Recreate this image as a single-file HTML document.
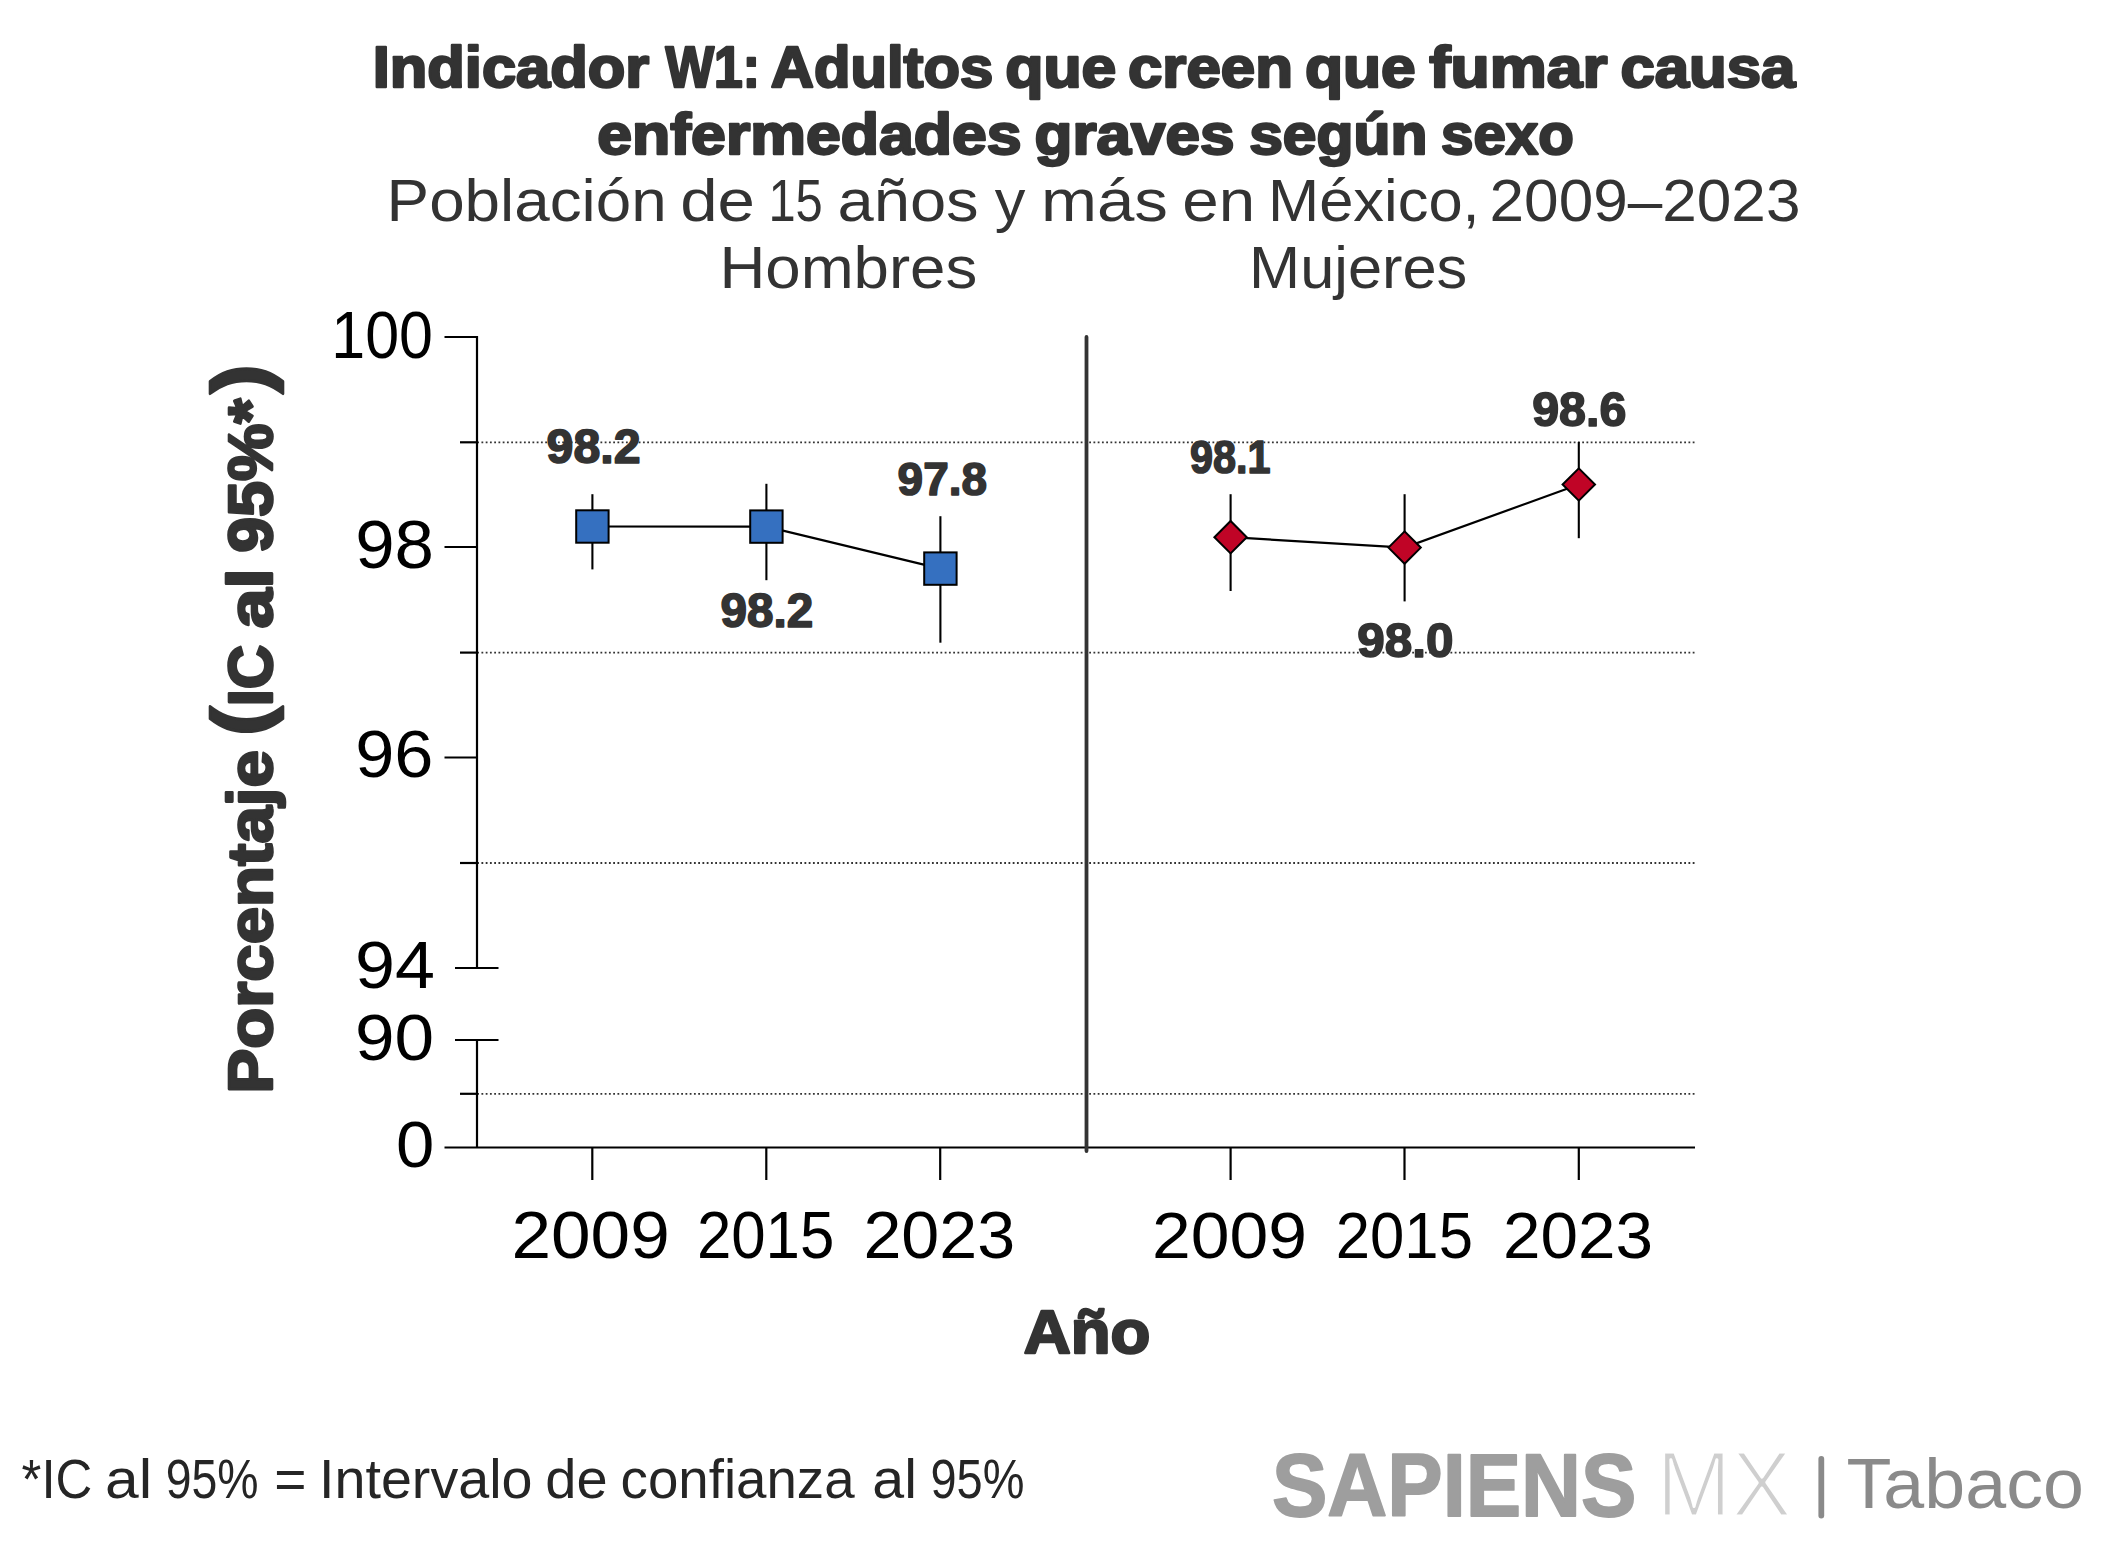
<!DOCTYPE html>
<html lang="es"><head><meta charset="utf-8"><title>Indicador W1: Adultos que creen que fumar causa enfermedades graves según sexo</title>
<style>
html,body{margin:0;padding:0;background:#fff;}
body{width:2105px;height:1542px;overflow:hidden;}
svg{display:block;}
text{font-family:"Liberation Sans",Arial,sans-serif;}
.grid{stroke:#333;stroke-width:1.8;stroke-dasharray:1.8 2.45;}
.ax{stroke:#000;stroke-width:2.2;}
.div{stroke:#333;stroke-width:3.8;stroke-linecap:round;}
.conn{fill:none;stroke:#000;stroke-width:2.2;}
.eb{stroke:#000;stroke-width:2.1;}
.sq{fill:#3570c0;stroke:#000;stroke-width:2.0;}
.dm{fill:#c00426;stroke:#000;stroke-width:2.0;stroke-linejoin:miter;}
</style></head>
<body>
<svg width="2105" height="1542" viewBox="0 0 2105 1542">
<rect width="2105" height="1542" fill="#fff"/>
<line x1="477.2" y1="442.3" x2="1694.5" y2="442.3" class="grid"/>
<line x1="477.2" y1="652.6" x2="1694.5" y2="652.6" class="grid"/>
<line x1="477.2" y1="863" x2="1694.5" y2="863" class="grid"/>
<line x1="477.2" y1="1093.8" x2="1694.5" y2="1093.8" class="grid"/>
<line x1="477" y1="336" x2="477" y2="969" class="ax"/>
<line x1="477" y1="1039" x2="477" y2="1148" class="ax"/>
<line x1="444.5" y1="337" x2="477" y2="337" class="ax"/>
<line x1="444.5" y1="547" x2="477" y2="547" class="ax"/>
<line x1="444.5" y1="757.5" x2="477" y2="757.5" class="ax"/>
<line x1="460" y1="442.3" x2="477" y2="442.3" class="ax"/>
<line x1="460" y1="652.6" x2="477" y2="652.6" class="ax"/>
<line x1="460" y1="863" x2="477" y2="863" class="ax"/>
<line x1="460" y1="1093.8" x2="477" y2="1093.8" class="ax"/>
<line x1="455" y1="968" x2="498.5" y2="968" class="ax"/>
<line x1="455" y1="1040" x2="498.5" y2="1040" class="ax"/>
<line x1="444.5" y1="1147.5" x2="1695" y2="1147.5" class="ax"/>
<line x1="592.3" y1="1147" x2="592.3" y2="1180" class="ax"/>
<line x1="766.3" y1="1147" x2="766.3" y2="1180" class="ax"/>
<line x1="940.2" y1="1147" x2="940.2" y2="1180" class="ax"/>
<line x1="1230.6" y1="1147" x2="1230.6" y2="1180" class="ax"/>
<line x1="1404.5" y1="1147" x2="1404.5" y2="1180" class="ax"/>
<line x1="1578.8" y1="1147" x2="1578.8" y2="1180" class="ax"/>
<line x1="1086.5" y1="337" x2="1086.5" y2="1151" class="div"/>
<polyline points="592.4,526.5 766.4,526.6 940.4,568.6" class="conn"/>
<polyline points="1230.6,537.2 1404.6,547.6 1578.8,484.5" class="conn"/>
<line x1="592.4" y1="494.2" x2="592.4" y2="569.4" class="eb"/>
<line x1="766.4" y1="483.8" x2="766.4" y2="580.2" class="eb"/>
<line x1="940.4" y1="516.2" x2="940.4" y2="642.7" class="eb"/>
<line x1="1230.6" y1="494.2" x2="1230.6" y2="591.0" class="eb"/>
<line x1="1404.6" y1="494.2" x2="1404.6" y2="601.4" class="eb"/>
<line x1="1578.8" y1="441.9" x2="1578.8" y2="538.2" class="eb"/>
<rect x="576.20" y="510.30" width="32.40" height="32.40" class="sq"/>
<rect x="750.20" y="510.40" width="32.40" height="32.40" class="sq"/>
<rect x="924.20" y="552.40" width="32.40" height="32.40" class="sq"/>
<polygon points="1214.40,537.20 1230.60,521.00 1246.80,537.20 1230.60,553.40" class="dm"/>
<polygon points="1388.40,547.60 1404.60,531.40 1420.80,547.60 1404.60,563.80" class="dm"/>
<polygon points="1562.60,484.50 1578.80,468.30 1595.00,484.50 1578.80,500.70" class="dm"/>
<line x1="1821.3" y1="1459" x2="1821.3" y2="1515.5" stroke="#8a8a8a" stroke-width="5.8" stroke-linecap="round"/>
<text id="t1" font-size="56.54" font-weight="bold" fill="#333333" stroke="#333333" stroke-width="2.4" stroke-linejoin="round"><tspan id="t1_0" x="372.78" y="86.80" textLength="276.42" lengthAdjust="spacingAndGlyphs">Indicador</tspan> <tspan id="t1_1" x="665.42" y="86.80" textLength="94.46" lengthAdjust="spacingAndGlyphs">W1:</tspan> <tspan id="t1_2" x="770.80" y="86.80" textLength="222.41" lengthAdjust="spacingAndGlyphs">Adultos</tspan> <tspan id="t1_3" x="1005.18" y="86.80" textLength="111.22" lengthAdjust="spacingAndGlyphs">que</tspan> <tspan id="t1_4" x="1127.98" y="86.80" textLength="165.06" lengthAdjust="spacingAndGlyphs">creen</tspan> <tspan id="t1_5" x="1304.98" y="86.80" textLength="110.83" lengthAdjust="spacingAndGlyphs">que</tspan> <tspan id="t1_6" x="1429.19" y="86.80" textLength="178.21" lengthAdjust="spacingAndGlyphs">fumar</tspan> <tspan id="t1_7" x="1620.40" y="86.80" textLength="175.01" lengthAdjust="spacingAndGlyphs">causa</tspan></text>
<text id="t2" font-size="56.54" font-weight="bold" fill="#333333" stroke="#333333" stroke-width="2.4" stroke-linejoin="round"><tspan id="t2_0" x="597.19" y="153.90" textLength="424.41" lengthAdjust="spacingAndGlyphs">enfermedades</tspan> <tspan id="t2_1" x="1034.59" y="153.90" textLength="200.01" lengthAdjust="spacingAndGlyphs">graves</tspan> <tspan id="t2_2" x="1249.20" y="153.90" textLength="178.24" lengthAdjust="spacingAndGlyphs">según</tspan> <tspan id="t2_3" x="1441.00" y="153.90" textLength="132.82" lengthAdjust="spacingAndGlyphs">sexo</tspan></text>
<text id="sub" font-size="59.01" fill="#333333"><tspan id="sub_0" x="386.62" y="221.00" textLength="280.10" lengthAdjust="spacingAndGlyphs">Población</tspan> <tspan id="sub_1" x="680.26" y="221.00" textLength="74.74" lengthAdjust="spacingAndGlyphs">de</tspan> <tspan id="sub_2" x="768.45" y="221.00" textLength="54.36" lengthAdjust="spacingAndGlyphs">15</tspan> <tspan id="sub_3" x="837.53" y="221.00" textLength="141.16" lengthAdjust="spacingAndGlyphs">años</tspan> <tspan id="sub_4" x="994.78" y="221.00" textLength="30.63" lengthAdjust="spacingAndGlyphs">y</tspan> <tspan id="sub_5" x="1040.99" y="221.00" textLength="126.90" lengthAdjust="spacingAndGlyphs">más</tspan> <tspan id="sub_6" x="1182.32" y="221.00" textLength="72.83" lengthAdjust="spacingAndGlyphs">en</tspan> <tspan id="sub_7" x="1267.95" y="221.00" textLength="211.74" lengthAdjust="spacingAndGlyphs">México,</tspan> <tspan id="sub_8" x="1489.55" y="221.00" textLength="310.90" lengthAdjust="spacingAndGlyphs">2009–2023</tspan></text>
<text id="hom" x="719.46" y="287.60" font-size="58.87" fill="#333333" textLength="257.79" lengthAdjust="spacingAndGlyphs">Hombres</text>
<text id="muj" x="1249.07" y="287.70" font-size="58.72" fill="#333333" textLength="218.21" lengthAdjust="spacingAndGlyphs">Mujeres</text>
<text id="y100" x="331.31" y="357.85" font-size="66.67" fill="#000000" textLength="101.63" lengthAdjust="spacingAndGlyphs">100</text>
<text id="y98" x="355.17" y="567.74" font-size="67.94" fill="#000000" textLength="78.80" lengthAdjust="spacingAndGlyphs">98</text>
<text id="y96" x="355.18" y="776.95" font-size="66.38" fill="#000000" textLength="78.24" lengthAdjust="spacingAndGlyphs">96</text>
<text id="y94" x="354.99" y="988.15" font-size="66.24" fill="#000000" textLength="79.95" lengthAdjust="spacingAndGlyphs">94</text>
<text id="y90" x="354.98" y="1059.67" font-size="64.83" fill="#000000" textLength="79.15" lengthAdjust="spacingAndGlyphs">90</text>
<text id="y0" x="395.96" y="1167.26" font-size="65.54" fill="#000000" textLength="38.32" lengthAdjust="spacingAndGlyphs">0</text>
<text id="xh1" x="511.47" y="1258.34" font-size="67.09" fill="#000000" textLength="158.25" lengthAdjust="spacingAndGlyphs">2009</text>
<text id="xh2" x="696.90" y="1258.34" font-size="67.09" fill="#000000" textLength="137.37" lengthAdjust="spacingAndGlyphs">2015</text>
<text id="xh3" x="863.45" y="1258.34" font-size="67.09" fill="#000000" textLength="151.68" lengthAdjust="spacingAndGlyphs">2023</text>
<text id="xm1" x="1152.08" y="1257.96" font-size="65.40" fill="#000000" textLength="155.01" lengthAdjust="spacingAndGlyphs">2009</text>
<text id="xm2" x="1335.87" y="1257.96" font-size="65.40" fill="#000000" textLength="137.03" lengthAdjust="spacingAndGlyphs">2015</text>
<text id="xm3" x="1503.08" y="1257.96" font-size="65.40" fill="#000000" textLength="150.05" lengthAdjust="spacingAndGlyphs">2023</text>
<text id="dh1" x="546.58" y="462.84" font-size="47.18" font-weight="bold" fill="#333333" stroke="#333333" stroke-width="1.6" stroke-linejoin="round" textLength="94.03" lengthAdjust="spacingAndGlyphs">98.2</text>
<text id="dh2" x="720.58" y="627.44" font-size="47.18" font-weight="bold" fill="#333333" stroke="#333333" stroke-width="1.6" stroke-linejoin="round" textLength="92.82" lengthAdjust="spacingAndGlyphs">98.2</text>
<text id="dh3" x="897.59" y="495.45" font-size="46.33" font-weight="bold" fill="#333333" stroke="#333333" stroke-width="1.6" stroke-linejoin="round" textLength="89.41" lengthAdjust="spacingAndGlyphs">97.8</text>
<text id="dm1" x="1190.00" y="473.44" font-size="46.89" font-weight="bold" fill="#333333" stroke="#333333" stroke-width="1.6" stroke-linejoin="round" textLength="80.61" lengthAdjust="spacingAndGlyphs">98.1</text>
<text id="dm2" x="1357.19" y="657.44" font-size="47.32" font-weight="bold" fill="#333333" stroke="#333333" stroke-width="1.6" stroke-linejoin="round" textLength="96.23" lengthAdjust="spacingAndGlyphs">98.0</text>
<text id="dm3" x="1532.19" y="426.03" font-size="48.02" font-weight="bold" fill="#333333" stroke="#333333" stroke-width="1.6" stroke-linejoin="round" textLength="94.22" lengthAdjust="spacingAndGlyphs">98.6</text>
<text id="ano" x="1023.79" y="1353.30" font-size="60.32" font-weight="bold" fill="#333333" stroke="#333333" stroke-width="2.4" stroke-linejoin="round" textLength="126.62" lengthAdjust="spacingAndGlyphs">Año</text>
<text id="foot" font-size="54.65" fill="#252525"><tspan id="foot_0" x="21.57" y="1498.40" textLength="70.74" lengthAdjust="spacingAndGlyphs">*IC</tspan> <tspan id="foot_1" x="105.03" y="1498.40" textLength="47.10" lengthAdjust="spacingAndGlyphs">al</tspan> <tspan id="foot_2" x="165.70" y="1498.40" textLength="92.78" lengthAdjust="spacingAndGlyphs">95%</tspan> <tspan id="foot_3" x="274.15" y="1498.40" textLength="32.20" lengthAdjust="spacingAndGlyphs">=</tspan> <tspan id="foot_4" x="319.05" y="1498.40" textLength="213.42" lengthAdjust="spacingAndGlyphs">Intervalo</tspan> <tspan id="foot_5" x="545.26" y="1498.40" textLength="62.30" lengthAdjust="spacingAndGlyphs">de</tspan> <tspan id="foot_6" x="620.59" y="1498.40" textLength="234.01" lengthAdjust="spacingAndGlyphs">confianza</tspan> <tspan id="foot_7" x="872.39" y="1498.40" textLength="44.59" lengthAdjust="spacingAndGlyphs">al</tspan> <tspan id="foot_8" x="930.53" y="1498.40" textLength="93.93" lengthAdjust="spacingAndGlyphs">95%</tspan></text>
<text id="sap" x="1271.98" y="1515.90" font-size="88.66" font-weight="bold" fill="#9e9e9e" stroke="#9e9e9e" stroke-width="1.8" stroke-linejoin="round" textLength="364.45" lengthAdjust="spacingAndGlyphs">SAPIENS</text>
<text id="mx" x="1656.19" y="1515.90" font-size="92.30" fill="#cfcfcf" stroke="#ffffff" stroke-width="3.0" stroke-linejoin="round" textLength="135.42" lengthAdjust="spacingAndGlyphs">MX</text>
<text id="tab" x="1846.57" y="1508.40" font-size="69.91" fill="#8a8a8a" textLength="237.29" lengthAdjust="spacingAndGlyphs">Tabaco</text>
<g transform="translate(273,0) rotate(-90)">
<text id="yl" font-size="62.35" font-weight="bold" fill="#333333" stroke="#333333" stroke-width="2.6" stroke-linejoin="round"><tspan id="yl_0" x="-1093.63" y="-1.30" textLength="343.44" lengthAdjust="spacingAndGlyphs">Porcentaje</tspan> <tspan id="yl_1" x="-736.12" y="-5.57" font-size="78.42" textLength="29.67" lengthAdjust="spacingAndGlyphs">(</tspan><tspan id="yl_2" x="-706.32" y="-1.30" textLength="61.75" lengthAdjust="spacingAndGlyphs">IC</tspan> <tspan id="yl_3" x="-628.41" y="-1.30" textLength="60.02" lengthAdjust="spacingAndGlyphs">al</tspan> <tspan id="yl_4" x="-552.80" y="-1.30" textLength="154.21" lengthAdjust="spacingAndGlyphs">95%*</tspan><tspan id="yl_5" x="-393.72" y="-5.57" font-size="78.42" textLength="29.45" lengthAdjust="spacingAndGlyphs">)</tspan></text>
</g>
</svg>
</body></html>
